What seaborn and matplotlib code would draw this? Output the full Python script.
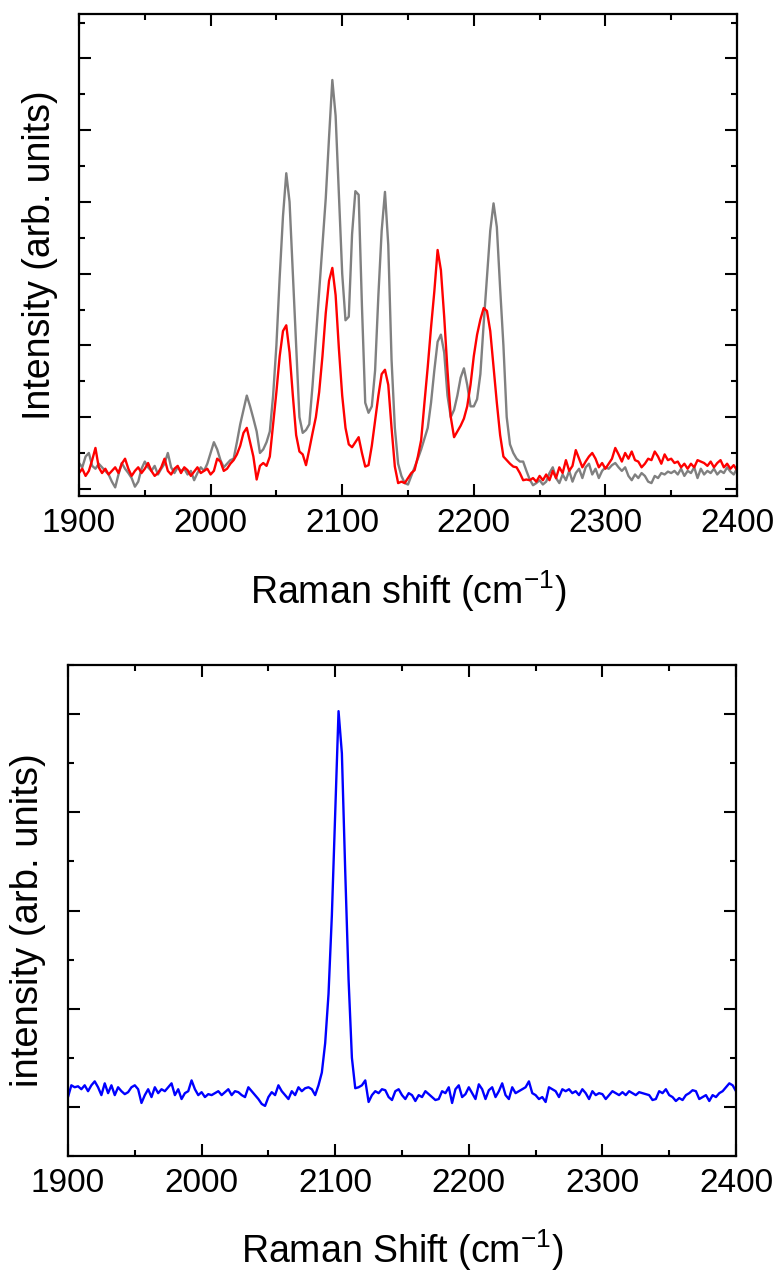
import numpy as np
import pandas as pd
import matplotlib
matplotlib.use("Agg")
import matplotlib.pyplot as plt
import seaborn as sns
from matplotlib.ticker import MultipleLocator, NullFormatter

sns.set_theme(style="white")
plt.rcParams['font.family'] = ['Liberation Sans', 'DejaVu Sans']
plt.rcParams['mathtext.fontset'] = 'custom'
plt.rcParams['mathtext.rm'] = 'Liberation Sans'
plt.rcParams['mathtext.it'] = 'Liberation Sans:italic'
plt.rcParams['mathtext.bf'] = 'Liberation Sans:bold'

# ---------------- data ----------------
shift_start, shift_stop, shift_step = 1900.0, 2400.0, 2.5

# top panel, grey spectrum (one row = 25 cm-1)
gray_top = [
    0.36, 0.30, 0.45, 0.50, 0.32, 0.28, 0.35, 0.30, 0.25, 0.20,  # 1900
    0.10, 0.02, 0.20, 0.36, 0.28, 0.22, 0.15, 0.03, 0.10, 0.28,  # 1925
    0.38, 0.30, 0.25, 0.32, 0.20, 0.28, 0.35, 0.50, 0.30, 0.22,  # 1950
    0.30, 0.25, 0.28, 0.20, 0.25, 0.12, 0.22, 0.30, 0.25, 0.35,  # 1975
    0.50, 0.65, 0.55, 0.40, 0.30, 0.35, 0.40, 0.42, 0.65, 0.90,  # 2000
    1.10, 1.30, 1.15, 0.98, 0.80, 0.50, 0.55, 0.65, 0.80, 1.30,  # 2025
    2.00, 2.95, 3.80, 4.40, 4.00, 3.00, 2.00, 1.00, 0.78, 0.82,  # 2050
    0.90, 1.45, 2.10, 2.75, 3.40, 4.05, 4.90, 5.70, 5.20, 4.10,  # 2075
    3.00, 2.35, 2.40, 3.55, 4.15, 4.10, 2.55, 1.20, 1.06, 1.15,  # 2100
    1.65, 2.70, 3.60, 4.14, 3.40, 1.80, 0.85, 0.35, 0.18, 0.08,  # 2125
    0.06, 0.18, 0.30, 0.42, 0.55, 0.70, 0.85, 1.20, 1.65, 2.05,  # 2150
    2.15, 1.90, 1.30, 1.00, 1.10, 1.30, 1.55, 1.68, 1.45, 1.15,  # 2175
    1.15, 1.25, 1.60, 2.30, 2.95, 3.60, 3.98, 3.65, 2.80, 2.00,  # 2200
    1.00, 0.62, 0.50, 0.42, 0.38, 0.38, 0.25, 0.13, 0.05, 0.08,  # 2225
    0.12, 0.06, 0.10, 0.22, 0.30, 0.15, 0.08, 0.20, 0.12, 0.25,  # 2250
    0.10, 0.22, 0.28, 0.15, 0.30, 0.35, 0.20, 0.28, 0.15, 0.25,  # 2275
    0.30, 0.28, 0.33, 0.36, 0.30, 0.25, 0.30, 0.18, 0.12, 0.20,  # 2300
    0.15, 0.22, 0.18, 0.10, 0.08, 0.18, 0.15, 0.22, 0.20, 0.24,  # 2325
    0.22, 0.25, 0.20, 0.28, 0.18, 0.25, 0.22, 0.30, 0.15, 0.28,  # 2350
    0.20, 0.25, 0.22, 0.28, 0.20, 0.25, 0.22, 0.30, 0.24, 0.20,  # 2375
    0.28,                                                        # 2400
]

# top panel, red spectrum
red_top = [
    0.22, 0.28, 0.18, 0.25, 0.40, 0.57, 0.30, 0.22, 0.28, 0.20,  # 1900
    0.25, 0.30, 0.22, 0.35, 0.42, 0.28, 0.18, 0.25, 0.30, 0.22,  # 1925
    0.28, 0.36, 0.25, 0.18, 0.22, 0.30, 0.42, 0.25, 0.20, 0.28,  # 1950
    0.32, 0.22, 0.30, 0.26, 0.18, 0.24, 0.30, 0.22, 0.25, 0.28,  # 1975
    0.20, 0.25, 0.42, 0.38, 0.25, 0.28, 0.35, 0.40, 0.48, 0.60,  # 2000
    0.78, 0.85, 0.65, 0.45, 0.13, 0.32, 0.36, 0.32, 0.45, 0.90,  # 2025
    1.35, 1.85, 2.20, 2.28, 1.90, 1.30, 0.75, 0.52, 0.48, 0.33,  # 2050
    0.55, 0.78, 1.00, 1.35, 1.85, 2.45, 2.90, 3.08, 2.70, 1.95,  # 2075
    1.30, 0.85, 0.62, 0.58, 0.65, 0.72, 0.50, 0.31, 0.33, 0.60,  # 2100
    0.95, 1.30, 1.60, 1.66, 1.45, 0.85, 0.31, 0.08, 0.10, 0.08,  # 2125
    0.15, 0.22, 0.26, 0.45, 0.68, 1.20, 1.70, 2.25, 2.75, 3.33,  # 2150
    3.05, 2.40, 1.65, 1.00, 0.72, 0.80, 0.88, 0.98, 1.15, 1.45,  # 2175
    1.85, 2.15, 2.36, 2.52, 2.48, 2.20, 1.70, 1.20, 0.75, 0.45,  # 2200
    0.40, 0.35, 0.31, 0.30, 0.22, 0.12, 0.13, 0.12, 0.15, 0.10,  # 2225
    0.18, 0.12, 0.20, 0.12, 0.25, 0.15, 0.30, 0.22, 0.40, 0.25,  # 2250
    0.32, 0.54, 0.42, 0.30, 0.38, 0.45, 0.50, 0.42, 0.30, 0.36,  # 2275
    0.28, 0.35, 0.42, 0.57, 0.48, 0.38, 0.50, 0.42, 0.52, 0.40,  # 2300
    0.38, 0.30, 0.35, 0.42, 0.40, 0.52, 0.45, 0.35, 0.48, 0.40,  # 2325
    0.42, 0.36, 0.38, 0.30, 0.35, 0.28, 0.35, 0.30, 0.40, 0.38,  # 2350
    0.36, 0.32, 0.38, 0.30, 0.36, 0.40, 0.30, 0.35, 0.28, 0.33,  # 2375
    0.26,                                                        # 2400
]

# bottom panel, blue spectrum
blue_bottom = [
    0.10, 0.22, 0.20, 0.21, 0.18, 0.22, 0.16, 0.22, 0.26, 0.20,  # 1900
    0.12, 0.24, 0.14, 0.22, 0.12, 0.20, 0.16, 0.13, 0.15, 0.20,  # 1925
    0.22, 0.18, 0.04, 0.12, 0.18, 0.10, 0.20, 0.14, 0.18, 0.16,  # 1950
    0.20, 0.24, 0.12, 0.18, 0.08, 0.14, 0.16, 0.27, 0.18, 0.12,  # 1975
    0.15, 0.10, 0.13, 0.12, 0.14, 0.16, 0.12, 0.15, 0.18, 0.12,  # 2000
    0.16, 0.15, 0.12, 0.10, 0.20, 0.16, 0.12, 0.08, 0.03, 0.01,  # 2025
    0.10, 0.15, 0.12, 0.22, 0.16, 0.12, 0.08, 0.16, 0.12, 0.20,  # 2050
    0.16, 0.19, 0.20, 0.18, 0.12, 0.22, 0.35, 0.65, 1.15, 1.95,  # 2075
    2.99, 4.03, 3.60, 2.40, 1.30, 0.50, 0.19, 0.20, 0.22, 0.27,  # 2100
    0.05, 0.12, 0.16, 0.14, 0.18, 0.17, 0.10, 0.07, 0.16, 0.18,  # 2125
    0.12, 0.08, 0.14, 0.12, 0.06, 0.12, 0.10, 0.16, 0.13, 0.10,  # 2150
    0.07, 0.08, 0.16, 0.14, 0.20, 0.04, 0.18, 0.22, 0.10, 0.13,  # 2175
    0.20, 0.14, 0.08, 0.23, 0.18, 0.08, 0.17, 0.20, 0.10, 0.16,  # 2200
    0.24, 0.12, 0.08, 0.20, 0.14, 0.16, 0.18, 0.20, 0.26, 0.14,  # 2225
    0.12, 0.08, 0.10, 0.05, 0.20, 0.18, 0.16, 0.10, 0.18, 0.16,  # 2250
    0.18, 0.14, 0.16, 0.12, 0.18, 0.14, 0.08, 0.16, 0.12, 0.14,  # 2275
    0.13, 0.08, 0.12, 0.16, 0.14, 0.12, 0.15, 0.12, 0.16, 0.14,  # 2300
    0.12, 0.15, 0.14, 0.13, 0.12, 0.07, 0.08, 0.16, 0.14, 0.18,  # 2325
    0.12, 0.10, 0.06, 0.09, 0.07, 0.12, 0.14, 0.17, 0.16, 0.08,  # 2350
    0.10, 0.12, 0.06, 0.12, 0.10, 0.14, 0.16, 0.20, 0.24, 0.22,  # 2375
    0.16,                                                        # 2400
]

x_ticks = [1900, 2000, 2100, 2200, 2300, 2400]
x_tick_labels = ["1900", "2000", "2100", "2200", "2300", "2400"]

shift = np.arange(shift_start, shift_stop + shift_step / 2, shift_step)
top_df = pd.DataFrame({"shift": shift, "gray": gray_top, "red": red_top})
bot_df = pd.DataFrame({"shift": shift, "blue": blue_bottom})

# ---------------- figure ----------------
W, H = 776, 1271
fig = plt.figure(figsize=(W / 100, H / 100), dpi=100)
fig.patch.set_facecolor("white")

ax1 = fig.add_axes([79 / W, 1 - 496 / H, (737 - 79) / W, (496 - 14) / H])
ax2 = fig.add_axes([68 / W, 1 - 1156 / H, (736 - 68) / W, (1156 - 665) / H])

sns.lineplot(data=top_df, x="shift", y="gray", color="#808080", lw=1.7,
             estimator=None, sort=False, ax=ax1)
sns.lineplot(data=top_df, x="shift", y="red", color="#ff0000", lw=1.7,
             estimator=None, sort=False, ax=ax1)
sns.lineplot(data=bot_df, x="shift", y="blue", color="#0000ff", lw=1.7,
             estimator=None, sort=False, ax=ax2)

ax1.set_ylim(-0.1, 6.62)
ax2.set_ylim(-0.5, 4.5)

for ax in (ax1, ax2):
    ax.set_facecolor("white")
    ax.set_xlim(1900, 2400)
    ax.set_xticks(x_ticks)
    ax.set_xticklabels(x_tick_labels)
    ax.xaxis.set_minor_locator(MultipleLocator(50))
    ax.yaxis.set_major_locator(MultipleLocator(1))
    ax.yaxis.set_minor_locator(MultipleLocator(0.5))
    ax.yaxis.set_major_formatter(NullFormatter())
    ax.grid(False)
    for s in ax.spines.values():
        s.set_color("black")
        s.set_linewidth(1.6)
        s.set_visible(True)
    ax.tick_params(which="both", direction="in", top=True, bottom=True,
                   left=True, right=True, color="black", width=1.5,
                   labelleft=False, labelcolor="black")
    ax.tick_params(which="major", length=8.5, pad=9, labelsize=24)
    ax.tick_params(which="minor", length=4.3)

ax1.set_xlabel(r"Raman shift (cm$^{\mathregular{-1}}$)", fontsize=27, color="black")
ax1.set_ylabel("Intensity (arb. units)", fontsize=27, color="black")
ax2.set_xlabel(r"Raman Shift (cm$^{\mathregular{-1}}$)", fontsize=27, color="black")
ax2.set_ylabel("intensity (arb. units)", fontsize=27.5, color="black")

for ax in (ax1, ax2):
    ax.xaxis.label.set_va("center")
    ax.yaxis.label.set_va("center")

ax1.xaxis.set_label_coords(0.5, -(591 - 496) / 482)
ax1.yaxis.set_label_coords((40 - 79) / 658, 0.5)
ax2.xaxis.set_label_coords(0.5, -(1250 - 1156) / 491)
ax2.yaxis.set_label_coords((28 - 68) / 668, (1156 - 920) / 491)

fig.savefig("out.png", dpi=100, facecolor="white")
